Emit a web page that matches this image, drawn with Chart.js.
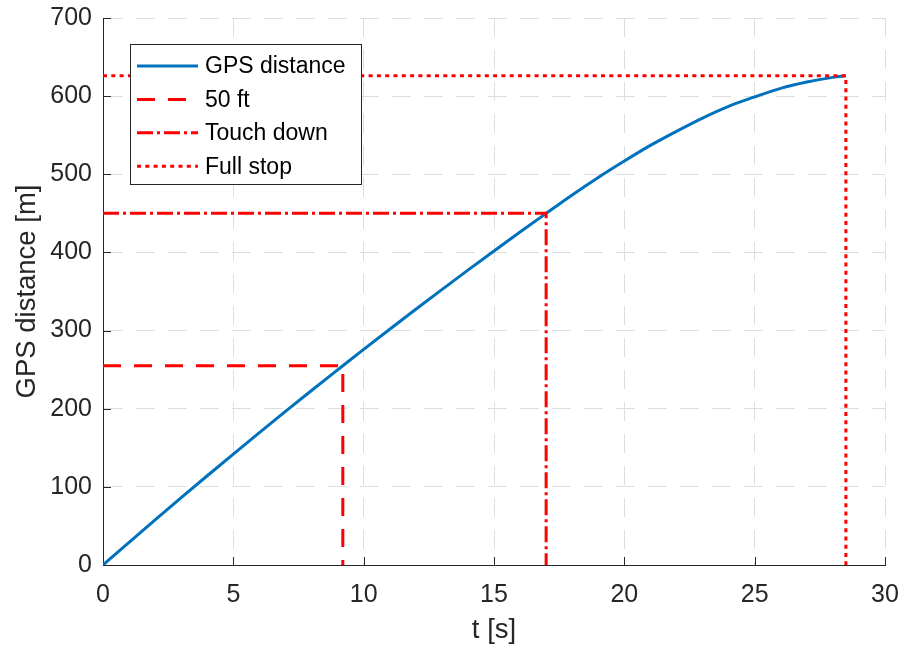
<!DOCTYPE html>
<html>
<head>
<meta charset="utf-8">
<script src="https://cdn.jsdelivr.net/npm/chart.js@4.4.1/dist/chart.umd.min.js"></script>
<style>
  html, body { margin: 0; padding: 0; background: #ffffff; }
  #wrap { width: 904px; height: 655px; }
</style>
</head>
<body>
<div id="wrap"><canvas id="c" width="904" height="655"></canvas></div>
<script>
// Landing roll: GPS-derived along-track distance versus time
const timeS = [0, 1, 2, 3, 4, 5, 6, 7, 8, 9, 9.2, 10, 11, 12, 13, 14, 15, 16, 17,
               18, 19, 20, 21, 22, 23, 24, 25, 26, 27, 28, 28.5];
const gpsDistance = [0, 29.0, 57.7, 86.1, 114.2, 142.0, 169.4, 196.5, 223.3, 249.7, 255, 275.9,
                     301.7, 327.2, 352.4, 377.3, 401.9, 426.1, 450,
                     473.6, 496, 517, 537, 555, 572, 587, 599, 610, 618, 624, 626];

// Event markers: time [s] and distance [m] at each event
const eventNames = ['50 ft', 'Touch down', 'Full stop'];
const eventTimes = [9.2, 17.0, 28.5];
const eventDistances = [255, 450, 626];

// Axis ticks
const xTicks = [0, 5, 10, 15, 20, 25, 30];
const yTicks = [0, 100, 200, 300, 400, 500, 600, 700];

const FONT = "'Liberation Sans', Arial, Helvetica, sans-serif";
const INK = '#262626';
const RED = '#ff0000';
const eventDashes = [[18, 13], [16, 4, 3, 4], [4, 4.3]];

// each event is drawn as an L: across from the y axis, then down to the x axis
const eventSets = eventNames.map((name, i) => ({
  label: name,
  data: [
    { x: 0, y: eventDistances[i] },
    { x: eventTimes[i], y: eventDistances[i] },
    { x: eventTimes[i], y: 0 }
  ],
  borderColor: RED,
  borderWidth: 3,
  borderDash: eventDashes[i],
  borderCapStyle: 'butt',
  pointRadius: 0,
  tension: 0,
  order: 1
}));

const datasets = [{
  label: 'GPS distance',
  data: timeS.map((t, i) => ({ x: t, y: gpsDistance[i] })),
  borderColor: '#0072bd',
  borderWidth: 3,
  pointRadius: 0,
  cubicInterpolationMode: 'monotone',
  order: 2
}, ...eventSets];

// Small inward tick marks on the left and bottom axes
const inwardTicks = {
  id: 'inwardTicks',
  beforeDatasetsDraw(chart) {
    const { ctx, chartArea: a, scales: { x, y } } = chart;
    ctx.save();
    ctx.strokeStyle = INK;
    ctx.lineWidth = 1;
    ctx.beginPath();
    x.ticks.forEach(t => {
      const px = Math.round(x.getPixelForValue(t.value)) + 0.5;
      ctx.moveTo(px, a.bottom);
      ctx.lineTo(px, a.bottom - 8);
    });
    y.ticks.forEach(t => {
      const py = Math.round(y.getPixelForValue(t.value)) + 0.5;
      ctx.moveTo(a.left, py);
      ctx.lineTo(a.left + 8, py);
    });
    ctx.stroke();
    ctx.restore();
  }
};

// Boxed legend in the upper-left of the plot area
const boxedLegend = {
  id: 'boxedLegend',
  afterDatasetsDraw(chart) {
    const ctx = chart.ctx;
    const box = { x: 130.5, y: 44.5, w: 231, h: 140 };
    ctx.save();
    ctx.fillStyle = '#ffffff';
    ctx.fillRect(box.x, box.y, box.w, box.h);
    ctx.strokeStyle = INK;
    ctx.lineWidth = 1;
    ctx.strokeRect(box.x, box.y, box.w, box.h);
    ctx.font = '23px ' + FONT;
    ctx.textBaseline = 'middle';
    ctx.textAlign = 'left';
    chart.data.datasets.forEach((ds, i) => {
      const cy = 66 + i * 33.4;
      ctx.beginPath();
      ctx.setLineDash(ds.borderDash || []);
      ctx.lineCap = 'butt';
      ctx.strokeStyle = ds.borderColor;
      ctx.lineWidth = ds.borderWidth;
      ctx.moveTo(137, cy);
      ctx.lineTo(198, cy);
      ctx.stroke();
      ctx.setLineDash([]);
      ctx.fillStyle = '#000000';
      ctx.fillText(ds.label, 205, cy + 1);
    });
    ctx.restore();
  }
};

// keep the plot frame fixed: no extra room reserved for overhanging tick labels
function clearScalePadding(s) {
  s.paddingTop = 0;
  s.paddingBottom = 0;
  s.paddingLeft = 0;
  s.paddingRight = 0;
}

new Chart(document.getElementById('c'), {
  type: 'line',
  data: { datasets },
  plugins: [inwardTicks, boxedLegend],
  options: {
    responsive: false,
    devicePixelRatio: 1,
    animation: false,
    layout: { padding: { left: 0, top: 18, right: 19, bottom: 0 } },
    plugins: { legend: { display: false }, tooltip: { enabled: false } },
    scales: {
      x: {
        type: 'linear',
        min: 0,
        max: 30,
        afterBuildTicks(s) { s.ticks = xTicks.map(v => ({ value: v })); },
        ticks: { padding: 15, color: INK, maxRotation: 0, font: { family: FONT, size: 25 } },
        grid: { color: '#dedede', lineWidth: 1, drawTicks: false },
        border: { display: true, color: INK, width: 1, dash: [19, 13] },
        title: { display: true, text: 't [s]', color: INK, font: { family: FONT, size: 27.5 },
                 padding: { top: 0, bottom: 8 } },
        afterFit(s) { s.height = 90; clearScalePadding(s); }
      },
      y: {
        type: 'linear',
        min: 0,
        max: 700,
        afterBuildTicks(s) { s.ticks = yTicks.map(v => ({ value: v })); },
        ticks: { padding: 11, color: INK, font: { family: FONT, size: 25 } },
        grid: { color: '#dedede', lineWidth: 1, drawTicks: false },
        border: { display: true, color: INK, width: 1, dash: [19, 13] },
        title: { display: true, text: 'GPS distance [m]', color: INK, font: { family: FONT, size: 27.5 },
                 padding: { top: 11, bottom: 0 } },
        afterFit(s) { s.width = 103; clearScalePadding(s); }
      }
    }
  }
});
</script>
</body>
</html>
